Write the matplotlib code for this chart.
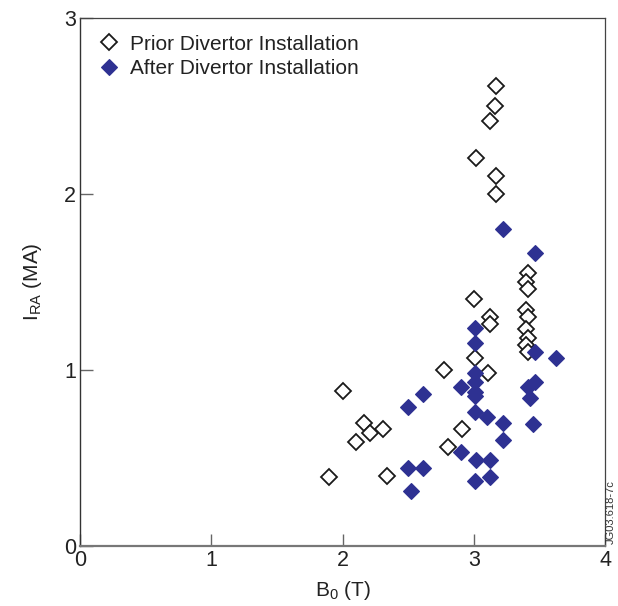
import matplotlib
matplotlib.use("Agg")
import matplotlib.pyplot as plt

plt.rcParams['font.family'] = ['Liberation Sans', 'DejaVu Sans']
plt.rcParams['mathtext.fontset'] = 'custom'
plt.rcParams['mathtext.rm'] = 'Liberation Sans'

# Toroidal field B0 (T) and runaway current I_RA (MA)
prior_b0 = [1.90, 2.00, 2.10, 2.16, 2.21, 2.31, 2.34,
            2.77, 2.80, 2.91,
            3.00, 3.01, 3.02,
            3.11, 3.12, 3.12, 3.12,
            3.17, 3.16, 3.17, 3.17,
            3.41, 3.40, 3.41, 3.40, 3.41, 3.40, 3.41, 3.40, 3.41]
prior_ira = [0.39, 0.88, 0.59, 0.70, 0.64, 0.665, 0.40,
             1.00, 0.56, 0.665,
             1.40, 1.07, 2.20,
             0.98, 1.30, 1.26, 2.41,
             2.61, 2.50, 2.10, 2.00,
             1.55, 1.50, 1.46, 1.34, 1.30, 1.23, 1.18, 1.14, 1.10]

after_b0 = [2.50, 2.61, 2.50, 2.61, 2.52,
            2.90, 2.90,
            3.01, 3.01, 3.01, 3.01, 3.01, 3.01, 3.01, 3.02, 3.01,
            3.10, 3.12, 3.12,
            3.22, 3.22, 3.22,
            3.47, 3.47, 3.47, 3.41, 3.43, 3.45,
            3.63]
after_ira = [0.79, 0.86, 0.44, 0.44, 0.31,
             0.90, 0.535,
             1.24, 1.15, 0.98, 0.93, 0.875, 0.85, 0.76, 0.49, 0.37,
             0.73, 0.49, 0.39,
             1.80, 0.70, 0.60,
             1.665, 1.10, 0.93, 0.90, 0.84, 0.69,
             1.07]

x_ticks = [0, 1, 2, 3, 4]
y_ticks = [0, 1, 2, 3]

navy = '#2e3192'

fig = plt.figure(figsize=(6.18, 6.06), dpi=100)
ax = fig.add_axes([80 / 618, 60 / 606, 525 / 618, 528.5 / 606])

ax.plot(prior_b0, prior_ira, linestyle='none', marker='D', markersize=8,
        markerfacecolor='white', markeredgecolor='#1a1a1a', markeredgewidth=1.3,
        label='Prior Divertor Installation')
ax.plot(after_b0, after_ira, linestyle='none', marker='D', markersize=8,
        markerfacecolor=navy, markeredgecolor=navy, markeredgewidth=0.8,
        label='After Divertor Installation')

ax.set_xlim(0, 4)
ax.set_ylim(0, 3)
ax.set_xticks(x_ticks)
ax.set_yticks(y_ticks)
ax.tick_params(direction='in', length=9, width=1.0, color='#666666',
               labelsize=15.5, pad=3, labelcolor='#222222')

for side in ('top', 'right'):
    ax.spines[side].set_color('#444444')
    ax.spines[side].set_linewidth(0.9)
ax.spines['left'].set_color('#333333')
ax.spines['left'].set_linewidth(1.0)
ax.spines['bottom'].set_color('#777777')
ax.spines['bottom'].set_linewidth(1.6)

ax.set_xlabel(r'B$_{\mathregular{0}}$ (T)', fontsize=15, color='#222222', labelpad=6)
ax.set_ylabel(r'I$_{\mathregular{RA}}$ (MA)', fontsize=15, color='#222222', labelpad=14)

leg = ax.legend(loc='upper left', frameon=False, fontsize=15, handletextpad=0.5,
                labelspacing=0.25, borderaxespad=0.3, handlelength=1.0,
                bbox_to_anchor=(0.008, 0.995))
for t in leg.get_texts():
    t.set_color('#222222')

fig.text(0.9885, 0.103, 'JG03.618-7c', rotation=90, fontsize=8,
         ha='center', va='bottom', color='#333333')

fig.savefig('out.png', dpi=100)
